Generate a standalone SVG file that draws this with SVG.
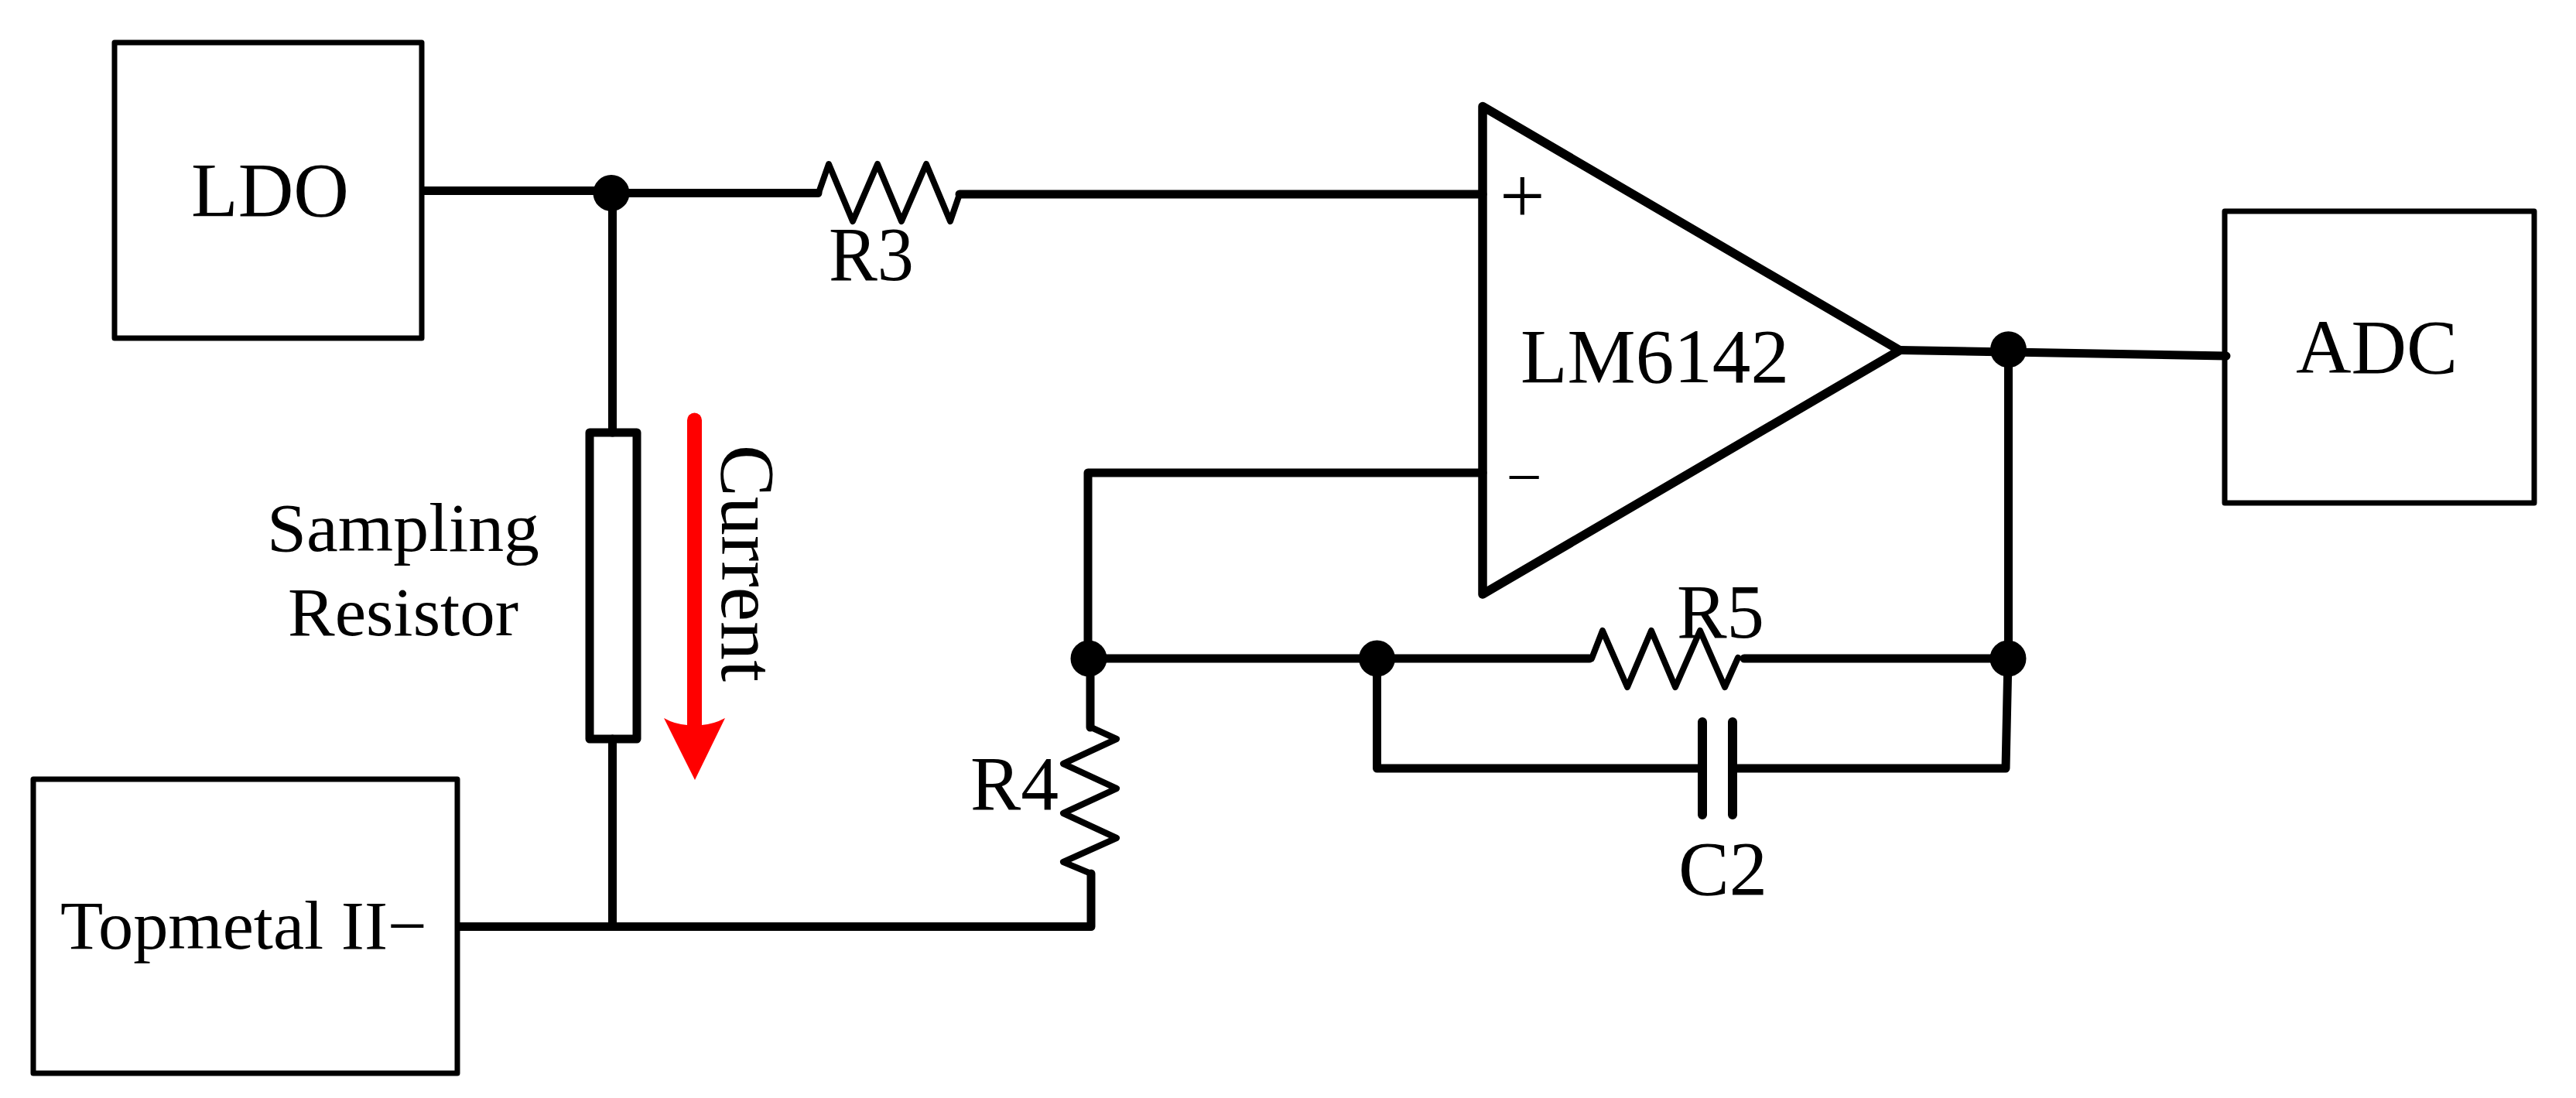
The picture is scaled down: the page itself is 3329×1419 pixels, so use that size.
<svg xmlns="http://www.w3.org/2000/svg" width="3329" height="1419" viewBox="0 0 3329 1419">
<style>
.box{fill:none;stroke:#000;stroke-width:7;stroke-linejoin:round}
.wire{fill:none;stroke:#000;stroke-width:11;stroke-linecap:round;stroke-linejoin:round}
.thin{fill:none;stroke:#000;stroke-width:8;stroke-linecap:round;stroke-linejoin:round}
.dot{fill:#000}
text{font-family:"Liberation Serif","Times New Roman",serif;font-size:100px;fill:#000}
.sm{font-size:88px}
</style>
<rect width="3329" height="1419" fill="#fff"/>
<g id="connectors">
<path class="wire" d="M548,246.500H790"/>
<path class="wire" d="M790,249.500H1057"/>
<path class="wire" d="M1240,251H1916"/>
<path class="wire" d="M791.500,249V559"/>
<path class="wire" d="M791.500,955V1197"/>
<path class="wire" d="M594,1197.500H1410V1129"/>
<path class="wire" d="M1406,611H1916M1406,611V851M1409,851V940"/>
<path class="wire" d="M1407,851H2054"/>
<path class="wire" d="M2254,851H2595"/>
<path class="wire" d="M1779.500,851V993H2200"/>
<path class="wire" d="M2239,993H2592L2595,851"/>
<path class="wire" d="M2455,452.500L2877,460"/>
<path class="wire" d="M2595.500,452V851"/>
</g>
<g id="LDO"><rect class="box" x="148" y="55" width="397" height="382"/><text x="247" y="279" textLength="204" lengthAdjust="spacingAndGlyphs">LDO</text></g>
<g id="Topmetal"><rect class="box" x="43" y="1007" width="548" height="380"/><text class="sm" x="78" y="1226" textLength="474" lengthAdjust="spacingAndGlyphs">Topmetal II−</text></g>
<g id="ADC"><rect class="box" x="2875" y="273" width="400" height="377"/><text x="2967" y="482" textLength="209" lengthAdjust="spacingAndGlyphs">ADC</text></g>
<g id="LM6142"><path d="M1916,137.500L2455,452.700L1916,768Z" fill="none" stroke="#000" stroke-width="11.500" stroke-linejoin="round"/>
<text x="1965" y="494" textLength="347" lengthAdjust="spacingAndGlyphs">LM6142</text>
<text x="1938" y="288" style="font-size:104px">+</text>
<text x="1946.500" y="644" style="font-size:82px">−</text></g>
<g id="R3"><path class="thin" d="M1058,249L1071,212L1102,286L1134,212L1165,286L1197,212L1228,286L1240,251"/><text x="1071" y="362" textLength="110" lengthAdjust="spacingAndGlyphs">R3</text></g>
<g id="R4"><path class="thin" d="M1410,940L1443,955L1374,987L1443,1019L1374,1051L1443,1083L1374,1114L1410,1129"/><text x="1254" y="1046" textLength="114" lengthAdjust="spacingAndGlyphs">R4</text></g>
<g id="R5"><path class="thin" d="M2057,851L2071,815L2103,888L2134,815L2165,888L2197,815L2229,888L2246,850"/><text x="2167" y="824" textLength="113" lengthAdjust="spacingAndGlyphs">R5</text></g>
<g id="C2"><path d="M2200,933V1053M2239,933V1053" fill="none" stroke="#000" stroke-width="12" stroke-linecap="round"/><text x="2169" y="1156" textLength="115" lengthAdjust="spacingAndGlyphs">C2</text></g>
<g id="SamplingResistor"><rect class="wire" x="762" y="559" width="61" height="396"/>
<text class="sm" x="345" y="712" textLength="352" lengthAdjust="spacingAndGlyphs">Sampling</text>
<text class="sm" x="372" y="821" textLength="298" lengthAdjust="spacingAndGlyphs">Resistor</text></g>
<g id="CurrentArrow"><path d="M897.500,543V940" fill="none" stroke="#f00" stroke-width="19" stroke-linecap="round"/><path d="M858,928Q872,936 888,937H907Q922,936 937,928L898,1008Z" fill="#f00"/>
<text transform="translate(933,575) rotate(90)" textLength="306" lengthAdjust="spacingAndGlyphs">Current</text></g>
<g id="junctions">
<circle class="dot" cx="790" cy="249.500" r="23.500"/>
<circle class="dot" cx="1407" cy="851" r="23.500"/>
<circle class="dot" cx="1779.500" cy="851" r="23.500"/>
<circle class="dot" cx="2595" cy="851" r="23.500"/>
<circle class="dot" cx="2595.500" cy="451.700" r="23.500"/>
</g>
</svg>
